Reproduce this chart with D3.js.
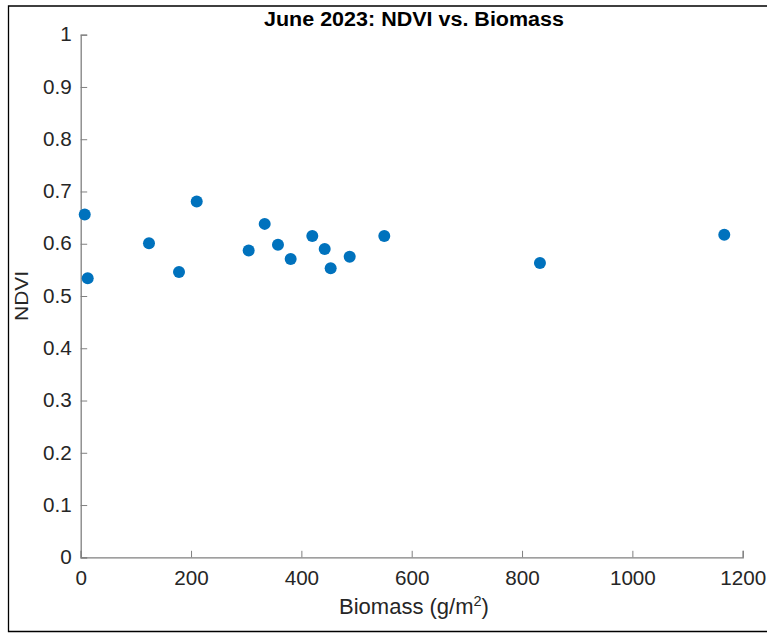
<!DOCTYPE html>
<html>
<head>
<meta charset="utf-8">
<script src="https://cdn.jsdelivr.net/npm/d3@7"></script>
<style>
  html, body { margin: 0; padding: 0; background: #fff; }
  svg { display: block; font-family: "Liberation Sans", Arial, Helvetica, sans-serif; }
</style>
</head>
<body>
<svg id="chart" width="767" height="633"></svg>
<script>
const biomass = [7.3, 12.7, 123.8, 178.2, 210.3, 304.5, 333.5, 357.6, 380.6, 419.8, 442.3, 453.1, 487.6, 550.3, 832.5, 1166.6];
const ndvi    = [0.656, 0.534, 0.601, 0.546, 0.681, 0.587, 0.638, 0.598, 0.571, 0.615, 0.590, 0.553, 0.575, 0.615, 0.563, 0.617];
const xTicks = [0, 200, 400, 600, 800, 1000, 1200];
const yTicks = [0, 0.1, 0.2, 0.3, 0.4, 0.5, 0.6, 0.7, 0.8, 0.9, 1];
const titleText = "June 2023: NDVI vs. Biomass";
const yLabelText = "NDVI";

const svg = d3.select("#chart");
const mLeft = 80.7, mRight = 742.7, mTop = 34.7, mBottom = 557.3;
const x = d3.scaleLinear().domain([0, 1200]).range([mLeft, mRight]);
const y = d3.scaleLinear().domain([0, 1]).range([mBottom, mTop]);

// figure border
svg.append("path")
  .attr("d", `M800,6 H8.5 V631.5 H800`)
  .attr("fill", "none").attr("stroke", "#000").attr("stroke-width", 1.3);

const axisColor = "#808080";
const textColor = "#262626";

const xAxis = svg.append("g")
  .attr("transform", `translate(0,${mBottom})`)
  .call(d3.axisBottom(x).tickValues(xTicks).tickSizeInner(-6.5).tickSizeOuter(-6.5).tickPadding(14).tickFormat(d3.format("d")));
const yAxis = svg.append("g")
  .attr("transform", `translate(${mLeft},0)`)
  .call(d3.axisLeft(y).tickValues(yTicks).tickSizeInner(-6.5).tickSizeOuter(-6.5).tickPadding(9).tickFormat(d => d === 0 ? "0" : d === 1 ? "1" : d3.format(".1f")(d)));

[xAxis, yAxis].forEach(g => {
  g.select(".domain").attr("stroke", axisColor).attr("stroke-width", 1.3);
  g.selectAll(".tick line").attr("stroke", axisColor).attr("stroke-width", 1);
  g.selectAll(".tick text").attr("fill", textColor).attr("font-size", 19.5)
    .attr("font-family", "Liberation Sans, Arial, sans-serif")
    .each(function() {
      const len = this.getComputedTextLength();
      d3.select(this).attr("textLength", len * 1.06).attr("lengthAdjust", "spacingAndGlyphs");
    });
});

// points
svg.append("g").selectAll("circle")
  .data(biomass.map((b, i) => [b, ndvi[i]]))
  .join("circle")
  .attr("cx", d => x(d[0]))
  .attr("cy", d => y(d[1]))
  .attr("r", 6)
  .attr("fill", "#0072BD");

// title
svg.append("text")
  .attr("x", 414).attr("y", 26)
  .attr("text-anchor", "middle")
  .attr("font-size", 19.5).attr("font-weight", "bold").attr("fill", "#000")
  .attr("textLength", 300).attr("lengthAdjust", "spacingAndGlyphs")
  .text(titleText);

// x label
const xl = svg.append("text")
  .attr("x", 414).attr("y", 614)
  .attr("text-anchor", "middle")
  .attr("font-size", 22).attr("fill", textColor);
xl.append("tspan").text("Biomass (g/m");
xl.append("tspan").attr("font-size", 14.5).attr("dy", -8.5).text("2");
xl.append("tspan").attr("dy", 8.5).text(")");

// y label
svg.append("text")
  .attr("transform", `translate(28,${(mTop + mBottom) / 2}) rotate(-90)`)
  .attr("text-anchor", "middle")
  .attr("font-size", 19).attr("fill", textColor)
  .attr("textLength", 50).attr("lengthAdjust", "spacingAndGlyphs")
  .text(yLabelText);
</script>
</body>
</html>
